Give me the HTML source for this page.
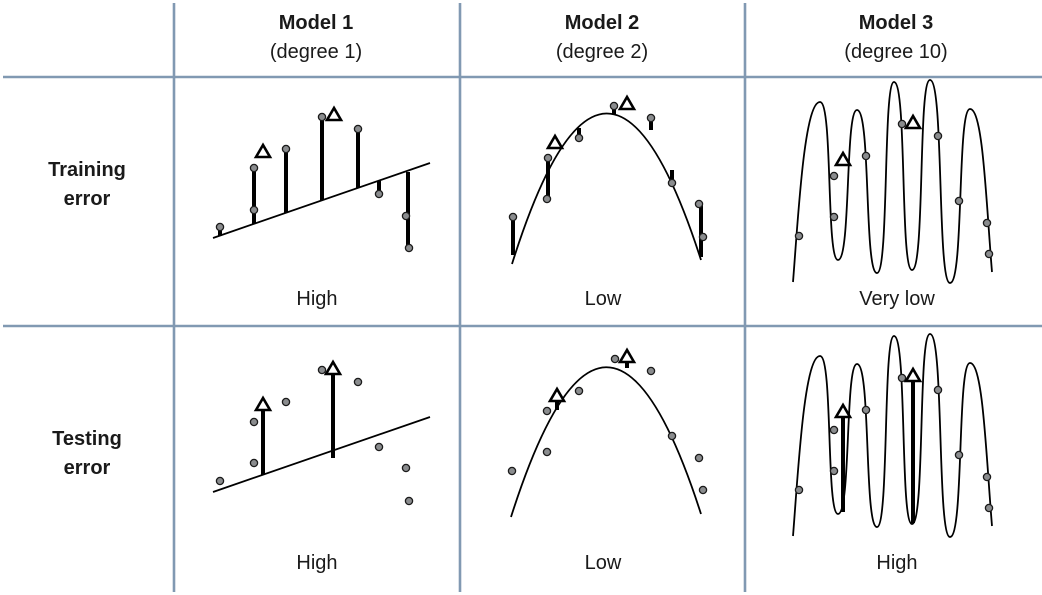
<!DOCTYPE html>
<html><head><meta charset="utf-8"><style>
html,body{margin:0;padding:0;background:#fff;}
svg{display:block;}
text{font-family:"Liberation Sans",sans-serif;font-size:20px;fill:#1a1a1a;text-anchor:middle;}
.b{font-weight:bold;}
.dot{fill:#8a8c8e;stroke:#1a1a1a;stroke-width:1.3;}
.tri{fill:#fff;stroke:#000;stroke-width:2.6;stroke-linejoin:miter;}
.bar{stroke:#000;stroke-width:4;}
.crv{fill:none;stroke:#000;stroke-width:1.8;}
</style></head><body>
<svg width="1042" height="595" viewBox="0 0 1042 595">
<defs>
<path id="wig" class="crv" d="M793,282 C798,220 804,102 820,102 C833,102 826,260 838,260 C851,260 845,110 857,110 C871,110 864,273 877,273 C889,273 883,82 894,82 C907,82 900,270 912,270 C925,270 918,80 930,80 C944,80 937,283 950,283 C964,283 957,109 970,109 C983,109 986,200 992,272"/>
<g id="wdots">
<circle class="dot" cx="799" cy="236" r="3.6"/><circle class="dot" cx="834" cy="176" r="3.6"/><circle class="dot" cx="834" cy="217" r="3.6"/><circle class="dot" cx="866" cy="156" r="3.6"/><circle class="dot" cx="902" cy="124" r="3.6"/><circle class="dot" cx="938" cy="136" r="3.6"/><circle class="dot" cx="959" cy="201" r="3.6"/><circle class="dot" cx="987" cy="223" r="3.6"/><circle class="dot" cx="989" cy="254" r="3.6"/>
</g>
</defs>
<g stroke="#8199b2" stroke-width="2.6">
<line x1="174" y1="3" x2="174" y2="592"/>
<line x1="460" y1="3" x2="460" y2="592"/>
<line x1="745" y1="3" x2="745" y2="592"/>
<line x1="3" y1="77" x2="1042" y2="77"/>
<line x1="3" y1="326" x2="1042" y2="326"/>
</g>
<text class="b" x="316" y="29">Model 1</text><text x="316" y="58">(degree 1)</text>
<text class="b" x="602" y="29">Model 2</text><text x="602" y="58">(degree 2)</text>
<text class="b" x="896" y="29">Model 3</text><text x="896" y="58">(degree 10)</text>
<text class="b" x="87" y="176">Training</text><text class="b" x="87" y="205">error</text>
<text class="b" x="87" y="445">Testing</text><text class="b" x="87" y="474">error</text>
<text x="317" y="305">High</text><text x="603" y="305">Low</text><text x="897" y="305">Very low</text>
<text x="317" y="569">High</text><text x="603" y="569">Low</text><text x="897" y="569">High</text>

<line class="crv" x1="213" y1="238" x2="430" y2="163"/>
<line class="bar" x1="220" y1="227" x2="220" y2="236"/>
<line class="bar" x1="254" y1="168" x2="254" y2="224"/>
<line class="bar" x1="286" y1="149" x2="286" y2="213"/>
<line class="bar" x1="322" y1="117" x2="322" y2="200"/>
<line class="bar" x1="358" y1="129" x2="358" y2="188"/>
<line class="bar" x1="379" y1="181" x2="379" y2="194"/>
<line class="bar" x1="408" y1="172" x2="408" y2="248" stroke-width="5"/>
<circle class="dot" cx="220" cy="227" r="3.6"/><circle class="dot" cx="254" cy="168" r="3.6"/><circle class="dot" cx="254" cy="210" r="3.6"/><circle class="dot" cx="286" cy="149" r="3.6"/><circle class="dot" cx="322" cy="117" r="3.6"/><circle class="dot" cx="358" cy="129" r="3.6"/><circle class="dot" cx="379" cy="194" r="3.6"/><circle class="dot" cx="406" cy="216" r="3.6"/><circle class="dot" cx="409" cy="248" r="3.6"/>
<polygon class="tri" points="263,145 256,157 270,157"/>
<polygon class="tri" points="334,108 327,120 341,120"/>

<line class="crv" x1="213" y1="492" x2="430" y2="417"/>
<line class="bar" x1="263" y1="475" x2="263" y2="410"/>
<line class="bar" x1="333" y1="458" x2="333" y2="375"/>
<circle class="dot" cx="220" cy="481" r="3.6"/><circle class="dot" cx="254" cy="422" r="3.6"/><circle class="dot" cx="254" cy="463" r="3.6"/><circle class="dot" cx="286" cy="402" r="3.6"/><circle class="dot" cx="322" cy="370" r="3.6"/><circle class="dot" cx="358" cy="382" r="3.6"/><circle class="dot" cx="379" cy="447" r="3.6"/><circle class="dot" cx="406" cy="468" r="3.6"/><circle class="dot" cx="409" cy="501" r="3.6"/>
<polygon class="tri" points="263,398 256,410 270,410"/>
<polygon class="tri" points="333,362 326,374 340,374"/>

<path class="crv" d="M512,264 Q606,-35 701,260"/>
<line class="bar" x1="513" y1="217" x2="513" y2="255"/>
<line class="bar" x1="548" y1="158" x2="548" y2="199"/>
<line class="bar" x1="579" y1="128" x2="579" y2="138"/>
<line class="bar" x1="614" y1="106" x2="614" y2="114"/>
<line class="bar" x1="651" y1="118" x2="651" y2="130"/>
<line class="bar" x1="672" y1="170" x2="672" y2="183"/>
<line class="bar" x1="701" y1="204" x2="701" y2="257" stroke-width="5"/>
<circle class="dot" cx="513" cy="217" r="3.6"/><circle class="dot" cx="548" cy="158" r="3.6"/><circle class="dot" cx="547" cy="199" r="3.6"/><circle class="dot" cx="579" cy="138" r="3.6"/><circle class="dot" cx="614" cy="106" r="3.6"/><circle class="dot" cx="651" cy="118" r="3.6"/><circle class="dot" cx="672" cy="183" r="3.6"/><circle class="dot" cx="699" cy="204" r="3.6"/><circle class="dot" cx="703" cy="237" r="3.6"/>
<polygon class="tri" points="555,136 548,148 562,148"/>
<polygon class="tri" points="627,97 620,109 634,109"/>

<path class="crv" d="M511,517 Q606,219 701,514"/>
<line class="bar" x1="557" y1="410" x2="557" y2="400"/>
<line class="bar" x1="627" y1="368" x2="627" y2="360"/>
<circle class="dot" cx="512" cy="471" r="3.6"/><circle class="dot" cx="547" cy="411" r="3.6"/><circle class="dot" cx="547" cy="452" r="3.6"/><circle class="dot" cx="579" cy="391" r="3.6"/><circle class="dot" cx="615" cy="359" r="3.6"/><circle class="dot" cx="651" cy="371" r="3.6"/><circle class="dot" cx="672" cy="436" r="3.6"/><circle class="dot" cx="699" cy="458" r="3.6"/><circle class="dot" cx="703" cy="490" r="3.6"/>
<polygon class="tri" points="557,389 550,401 564,401"/>
<polygon class="tri" points="627,350 620,362 634,362"/>

<use href="#wig"/>
<use href="#wdots"/>
<polygon class="tri" points="843,153 836,165 850,165"/>
<polygon class="tri" points="913,116 906,128 920,128"/>

<g transform="translate(0,254)"><use href="#wig"/></g>
<line class="bar" x1="843" y1="512" x2="843" y2="416" stroke-width="4.5"/>
<line class="bar" x1="913" y1="523" x2="913" y2="380" stroke-width="4.5"/>
<g transform="translate(0,254)"><use href="#wdots"/></g>
<polygon class="tri" points="843,405 836,417 850,417"/>
<polygon class="tri" points="913,369 906,381 920,381"/>
</svg>
</body></html>
